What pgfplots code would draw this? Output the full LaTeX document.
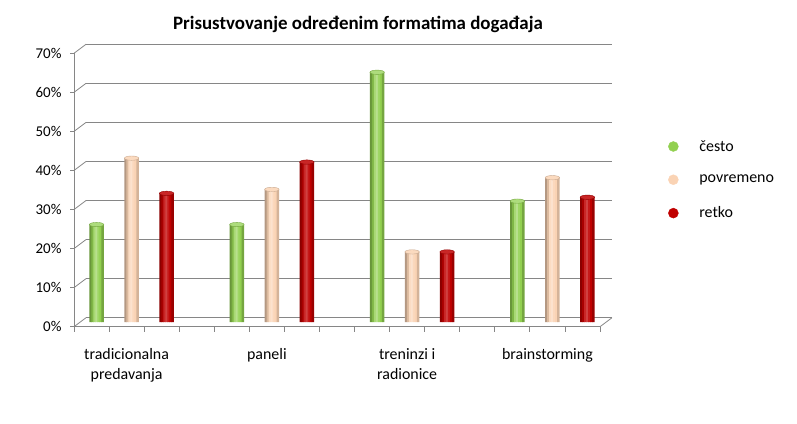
\documentclass[border=0pt]{standalone}
\usepackage{pgfplots}
\pgfplotsset{compat=1.18}
\usepackage{pgfplotstable}
\usepackage{fontspec}
\setmainfont{Carlito}
\definecolor{gridgray}{HTML}{868686}
\definecolor{cGreen}{HTML}{92D050}
\definecolor{cPeach}{HTML}{FAD3B4}
\definecolor{cRed}{HTML}{C00000}
\pgfplotstableread{
x y
0 25
1 25
2 64
3 31
}\tOften
\pgfplotstableread{
x y
0 42
1 34
2 18
3 37
}\tSometimes
\pgfplotstableread{
x y
0 33
1 41
2 18
3 32
}\tRarely
% one vertical strip of a cylinder: colour, shift (bp), table
\newcommand{\strip}[3]{\addplot[ybar, forget plot, draw=none, fill=#1, bar width=2.4bp,
  bar shift=#2bp, xshift=5bp, yshift=4.5bp] table[x=x,y=y] {#3};}
\begin{document}
\begin{tikzpicture}
\useasboundingbox (0,0) rectangle (797bp,424bp);
\node[font=\fontsize{19}{23}\selectfont\bfseries, anchor=base] at (358bp,394bp) {Prisustvovanje određenim formatima događaja};
\begin{axis}[
  at={(74bp,97.3bp)}, anchor=south west,
  scale only axis, width=526bp, height=273.4bp,
  xmin=-0.375, xmax=3.375, ymin=0, ymax=70,
  clip=false,
  axis lines*=left,
  axis line style={draw=gridgray, line width=0.8bp, -},
  xtick={0,1,2,3},
  xticklabels={{tradicionalna\\predavanja},{paneli},{treninzi i\\radionice},{brainstorming}},
  minor xtick={-0.375,-0.125,...,3.375},
  major x tick style={draw=none},
  minor x tick style={draw=gridgray, line width=0.8bp},
  minor tick length=5bp,
  ytick={0,10,...,70},
  yticklabels={0\%,10\%,20\%,30\%,40\%,50\%,60\%,70\%},
  y tick style={draw=gridgray, line width=0.8bp},
  major tick length=4bp,
  tick align=outside,
  yticklabel style={font=\fontsize{15}{18}\selectfont, xshift=-5bp},
  xticklabel style={font=\fontsize{16}{20}\selectfont, align=center, yshift=-14bp},
  ymajorgrids,
  major grid style={draw=gridgray, line width=0.8bp, shift={(12bp,9bp)}},
  legend style={at={(axis description cs:1.122,0.537)}, anchor=west, draw=none, fill=none,
    row sep=18.5bp, font=\fontsize{16}{19}\selectfont, cells={anchor=west}},
]
% često (green), centre shift -35bp
\strip{cGreen!72!black}{-41}{\tOften}
\strip{cGreen!88!black}{-39}{\tOften}
\strip{cGreen!80!white}{-37}{\tOften}
\strip{cGreen!65!white}{-35}{\tOften}
\strip{cGreen!88!white}{-33}{\tOften}
\strip{cGreen}{-31}{\tOften}
\strip{cGreen!80!black}{-29}{\tOften}
% povremeno (peach), centre shift 0bp
\strip{cPeach!72!black}{-6}{\tSometimes}
\strip{cPeach!88!black}{-4}{\tSometimes}
\strip{cPeach!80!white}{-2}{\tSometimes}
\strip{cPeach!65!white}{0}{\tSometimes}
\strip{cPeach!88!white}{2}{\tSometimes}
\strip{cPeach}{4}{\tSometimes}
\strip{cPeach!85!black}{6}{\tSometimes}
% retko (red), centre shift 35bp
\strip{cRed!72!black}{29}{\tRarely}
\strip{cRed!88!black}{31}{\tRarely}
\strip{cRed!85!white}{33}{\tRarely}
\strip{cRed!75!white}{35}{\tRarely}
\strip{cRed!90!white}{37}{\tRarely}
\strip{cRed}{39}{\tRarely}
\strip{cRed!80!black}{41}{\tRarely}
% cylinder tops
\addplot[forget plot, only marks, mark=*, mark size=7.2bp, xshift=-30bp, yshift=4.5bp,
  mark options={yscale=0.3, fill=cGreen!75!white, draw=cGreen!80!black, line width=0.4bp}]
  table[x=x,y=y] {\tOften};
\addplot[forget plot, only marks, mark=*, mark size=7.2bp, xshift=5bp, yshift=4.5bp,
  mark options={yscale=0.3, fill=cPeach!85!white, draw=cPeach!80!black, line width=0.4bp}]
  table[x=x,y=y] {\tSometimes};
\addplot[forget plot, only marks, mark=*, mark size=7.2bp, xshift=40bp, yshift=4.5bp,
  mark options={yscale=0.3, fill=cRed!85!white, draw=cRed!75!black, line width=0.4bp}]
  table[x=x,y=y] {\tRarely};
\addlegendimage{legend image code/.code={\fill[cGreen] (6bp,0) circle (5bp); \path[draw=none] (0,0) -- (30bp,0);}}
\addlegendentry{često}
\addlegendimage{legend image code/.code={\fill[cPeach] (6bp,0) circle (5bp); \path[draw=none] (0,0) -- (30bp,0);}}
\addlegendentry{povremeno}
\addlegendimage{legend image code/.code={\fill[cRed] (6bp,0) circle (5bp); \path[draw=none] (0,0) -- (30bp,0);}}
\addlegendentry{retko}
\pgfplotsinvokeforeach{0,10,...,70}{\draw[gridgray, line width=0.8bp] (axis cs:-0.375,#1) -- ++(12bp,9bp);}
\draw[gridgray, line width=0.8bp] (axis cs:3.375,0) -- ++(12bp,9bp);
\end{axis}
\end{tikzpicture}
\end{document}
